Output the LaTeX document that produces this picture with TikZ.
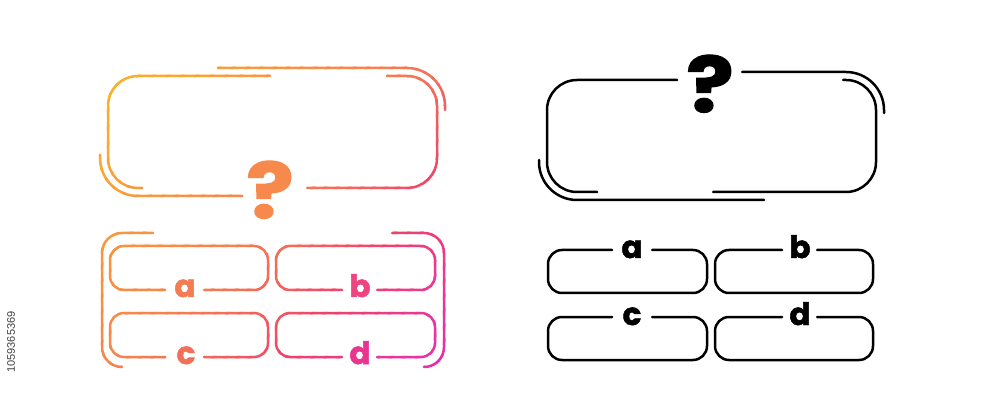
\documentclass[tikz,border=0pt]{standalone}
\usepackage{fontspec}
\newfontfamily\lblfont{Poppins}[BoldFeatures={FakeBold=1.6}]
\newfontfamily\idfont{Liberation Sans}
\definecolor{G0}{HTML}{FBB62A}
\definecolor{G1}{HTML}{F99A3C}
\definecolor{G2}{HTML}{F6824E}
\definecolor{G3}{HTML}{F46A5A}
\definecolor{G4}{HTML}{F0426B}
\definecolor{G5}{HTML}{EC3A8E}
\definecolor{G6}{HTML}{E92AB5}
\definecolor{qcol}{HTML}{F7894C}
\definecolor{acol}{HTML}{F47B52}
\definecolor{bcol}{HTML}{EE4580}
\definecolor{ccol}{HTML}{F27058}
\definecolor{dcol}{HTML}{E8358F}
\tikzset{
  ln/.style={line width=2.5pt, line cap=round, line join=round},
  lbl/.style={inner sep=0pt, anchor=base, font=\lblfont\bfseries\fontsize{31}{31}\selectfont},
  qm/.style={inner sep=0pt, anchor=base, font=\lblfont\bfseries\fontsize{77}{77}\selectfont, xscale=1.15},
}
% all gradient-coloured strokes, in one colour
\newcommand\colstrokes[1]{%
  \begin{scope}[ln, draw=#1]
    % top box
    \draw[rounded corners=30pt] (270,76) -- (108,76) -- (108,188) -- (142,188);
    \draw[rounded corners=30pt] (307,188) -- (437,188) -- (437,76) -- (387,76);
    \draw[rounded corners=38pt] (218,68) -- (445,68) -- (445,110);
    \draw[rounded corners=38pt] (100,155) -- (100,196) -- (242,196);
    % brackets
    \draw[rounded corners=20pt] (153,233) -- (102,233) -- (102,367) -- (122,367);
    \draw[rounded corners=20pt] (392,233) -- (444,233) -- (444,367) -- (424,367);
    % answer boxes
    \draw[rounded corners=14pt] (165,290) -- (110,290) -- (110,246) -- (268,246) -- (268,290) -- (204,290);
    \draw[rounded corners=14pt] (342,290) -- (276,290) -- (276,246) -- (435,246) -- (435,290) -- (377,290);
    \draw[rounded corners=14pt] (165,357) -- (110,357) -- (110,313) -- (268,313) -- (268,357) -- (204,357);
    \draw[rounded corners=14pt] (342,357) -- (276,357) -- (276,313) -- (435,313) -- (435,357) -- (377,357);
  \end{scope}%
}
% one gradient piece made of #5 diagonal strips
\newcommand\gradseg[5]{%
  \foreach \gj in {1,...,#5}{%
    \pgfmathsetmacro\gtA{#1+(#2-#1)*(\gj-1)/#5}%
    \pgfmathsetmacro\gtB{#1+(#2-#1)*\gj/#5+0.006}%
    \pgfmathsetmacro\gpct{100*(\gj-0.5)/#5}%
    \begin{scope}
      \clip (100+345*\gtA-600, 68+300*\gtA+690) -- (100+345*\gtA+600, 68+300*\gtA-690)
         -- (100+345*\gtB+600, 68+300*\gtB-690) -- (100+345*\gtB-600, 68+300*\gtB+690) -- cycle;
      \colstrokes{#4!\gpct!#3}
    \end{scope}
  }%
}
\begin{document}
\begin{tikzpicture}[x=1pt,y=-1pt]
\useasboundingbox (0,0) rectangle (1000,419);
\fill[white] (0,0) rectangle (1000,419);

% ---------- coloured version ----------
\gradseg{-0.2}{0}{G0}{G0}{1}
\gradseg{0}{0.24}{G0}{G1}{10}
\gradseg{0.24}{0.46}{G1}{G2}{10}
\gradseg{0.46}{0.58}{G2}{G3}{6}
\gradseg{0.58}{0.72}{G3}{G4}{7}
\gradseg{0.72}{0.85}{G4}{G5}{6}
\gradseg{0.85}{1}{G5}{G6}{7}
\gradseg{1}{1.2}{G6}{G6}{1}

\node[qm, text=qcol] (cq) at (270,218) {?};
\node[lbl, text=acol] (ca) at (185,297) {a};
\node[lbl, text=bcol] (cb) at (360,297) {b};
\node[lbl, text=ccol] (cc) at (186,364) {c};
\node[lbl, text=dcol] (cd) at (360,364) {d};

% ---------- black version ----------
\begin{scope}[ln, draw=black]
  \draw[rounded corners=30pt] (677,80) -- (547,80) -- (547,192) -- (597,192);
  \draw[rounded corners=30pt] (713,192) -- (876,192) -- (876,80) -- (843,80);
  \draw[rounded corners=38pt] (742,72) -- (884,72) -- (884,113);
  \draw[rounded corners=38pt] (539,160) -- (539,200) -- (764,200);
  \draw[rounded corners=14pt] (612,250) -- (548,250) -- (548,293) -- (707,293) -- (707,250) -- (652,250);
  \draw[rounded corners=14pt] (782,250) -- (715,250) -- (715,293) -- (873,293) -- (873,250) -- (817,250);
  \draw[rounded corners=14pt] (612,317) -- (548,317) -- (548,360) -- (707,360) -- (707,317) -- (652,317);
  \draw[rounded corners=14pt] (782,317) -- (715,317) -- (715,360) -- (873,360) -- (873,317) -- (817,317);
\end{scope}
\node[qm, text=black] (kq) at (710,112) {?};
\node[lbl, text=black] (ka) at (632,258) {a};
\node[lbl, text=black] (kb) at (800,258) {b};
\node[lbl, text=black] (kc) at (632,325) {c};
\node[lbl, text=black] (kd) at (800,325) {d};

\node[inner sep=0pt, rotate=90, text=black!75, font=\idfont\fontsize{11}{11}\selectfont] (id) at (11,342) {1059365369};
\end{tikzpicture}
\end{document}
